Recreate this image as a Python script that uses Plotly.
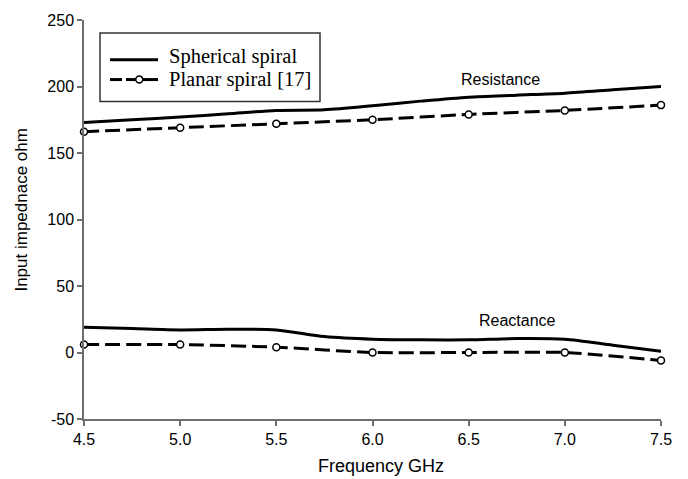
import plotly.graph_objects as go

# Input impedance of the spherical and planar spiral antennas
freq_sph = [4.5, 4.75, 5.0, 5.25, 5.5, 5.75, 6.0, 6.25, 6.5, 6.75, 7.0, 7.25, 7.5]
res_sph = [173, 175, 177, 179.5, 182, 182.5, 185.5, 189, 192, 193.5, 195, 197.5, 200]
rea_sph = [19, 18, 17, 17.5, 17, 12, 10, 9.5, 9.5, 10.5, 10, 5.5, 1]

freq_pl = [4.5, 5.0, 5.5, 6.0, 6.5, 7.0, 7.5]
res_pl = [166, 169, 172, 175, 179, 182, 186]
rea_pl = [6, 6, 4, 0, 0, 0, -6]

x_ticks = [4.5, 5.0, 5.5, 6.0, 6.5, 7.0, 7.5]
y_ticks = [-50, 0, 50, 100, 150, 200, 250]

W, H = 688, 479
L, R, T, B = 84, 27, 17, 60
PW, PH = W - L - R, H - T - B


def px(x):
    return (x - L) / PW


def py(y):
    return (H - B - y) / PH


SANS = "Liberation Sans, Arial, sans-serif"
SERIF = "Liberation Serif, Times New Roman, serif"

fig = go.Figure()

solid = dict(color="black", width=3, shape="spline", smoothing=0.8)
dashed = dict(color="black", width=3, dash="15px,6px", shape="spline", smoothing=0.6)
marker = dict(symbol="circle", size=7, color="white", line=dict(color="black", width=1.5))

for ys in (res_sph, rea_sph):
    fig.add_trace(go.Scatter(x=freq_sph, y=ys, mode="lines", line=solid,
                             showlegend=False, cliponaxis=False, hoverinfo="skip"))
for ys in (res_pl, rea_pl):
    fig.add_trace(go.Scatter(x=freq_pl, y=ys, mode="lines+markers", line=dashed,
                             marker=marker, showlegend=False, cliponaxis=False,
                             hoverinfo="skip"))

axis_common = dict(
    showline=True, linecolor="#6e6e6e", linewidth=1.5,
    ticks="outside", ticklen=5, tickwidth=1.5, tickcolor="#6e6e6e",
    showgrid=False, zeroline=False,
    tickfont=dict(family=SANS, size=16, color="black"),
)

fig.update_xaxes(range=[4.5, 7.5], tickvals=x_ticks,
                 ticktext=[f"{v:.1f}" for v in x_ticks], **axis_common)
fig.update_yaxes(range=[-50, 250], tickvals=y_ticks,
                 ticktext=[str(v) for v in y_ticks], **axis_common)

shapes = []
annotations = []


def hline(x0, x1, y, width):
    return dict(type="line", xref="paper", yref="paper",
                x0=px(x0), x1=px(x1), y0=py(y), y1=py(y),
                line=dict(color="black", width=width), layer="above")


# Legend box
shapes.append(dict(type="rect", xref="paper", yref="paper",
                   x0=px(100), x1=px(320), y0=py(30), y1=py(99),
                   line=dict(color="#333333", width=1.5), fillcolor="white", layer="above"))
# Solid sample
shapes.append(hline(110, 158, 57, 3))
# Dashed sample with a marker
shapes.append(hline(110, 122, 77, 3))
shapes.append(hline(126, 136, 77, 3))
shapes.append(hline(143, 158, 77, 3))
shapes.append(dict(type="circle", xref="paper", yref="paper",
                   x0=px(135.8), x1=px(142.8), y0=py(73.5), y1=py(80.5),
                   line=dict(color="black", width=1.5), fillcolor="white", layer="above"))

annotations.append(dict(text="Spherical spiral", xref="paper", yref="paper",
                        x=px(167), y=py(54), xanchor="left", yanchor="middle",
                        showarrow=False, font=dict(family=SERIF, size=20.5, color="black")))
annotations.append(dict(text="Planar spiral [17]", xref="paper", yref="paper",
                        x=px(167), y=py(77), xanchor="left", yanchor="middle",
                        showarrow=False, font=dict(family=SERIF, size=20.5, color="black")))

# Curve labels
annotations.append(dict(text="Resistance", x=6.663, y=205, xanchor="center", yanchor="middle",
                        showarrow=False, font=dict(family=SANS, size=16, color="black")))
annotations.append(dict(text="Reactance", x=6.754, y=24, xanchor="center", yanchor="middle",
                        showarrow=False, font=dict(family=SANS, size=16, color="black")))

# Axis titles
annotations.append(dict(text="Frequency GHz", xref="paper", yref="paper",
                        x=px(381), y=py(466), xanchor="center", yanchor="middle",
                        showarrow=False, font=dict(family=SANS, size=18, color="black")))
annotations.append(dict(text="Input impednace ohm", xref="paper", yref="paper",
                        x=px(22), y=py(208), xanchor="center", yanchor="middle", textangle=-90,
                        showarrow=False, font=dict(family=SANS, size=17, color="black")))

fig.update_layout(
    width=W, height=H,
    margin=dict(l=L, r=R, t=T, b=B, pad=0),
    paper_bgcolor="white", plot_bgcolor="white",
    shapes=shapes, annotations=annotations,
    showlegend=False,
)

fig.write_html("out.html")
